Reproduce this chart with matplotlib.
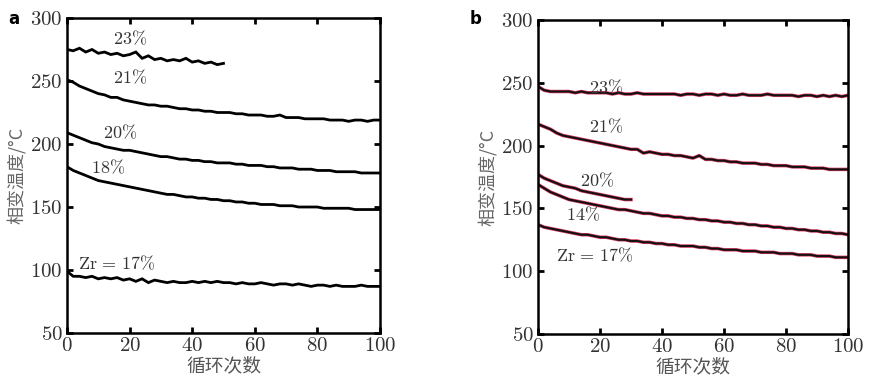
import matplotlib
matplotlib.use("Agg")
import matplotlib.pyplot as plt
import numpy as np

plt.rcParams['mathtext.fontset'] = 'cm'
plt.rcParams['axes.formatter.use_mathtext'] = True
plt.rcParams['font.family'] = ['Noto Sans CJK SC', 'DejaVu Sans']

# ---------------- data ----------------
cycles_a23 = list(range(0, 51, 2))
a_23 = [275, 274, 276, 273, 275, 272, 273, 271, 272, 270, 271, 273, 268, 270, 267,
        268, 266, 267, 266, 268, 265, 266, 264, 265, 263, 264]

cycles = list(range(0, 101, 2))
a_21 = [251, 249, 246, 244, 242, 240, 239, 237, 237, 235, 234, 233, 232, 231, 231,
        230, 230, 229, 228, 228, 227, 227, 226, 226, 225, 225, 225, 224, 224, 223,
        223, 223, 222, 222, 223, 221, 221, 221, 220, 220, 220, 220, 219, 219, 219,
        218, 219, 219, 218, 219, 219]
a_20 = [209, 207, 205, 203, 201, 200, 198, 197, 196, 195, 195, 194, 193, 192, 191,
        190, 190, 189, 188, 188, 187, 187, 186, 186, 185, 185, 185, 184, 184, 183,
        183, 183, 182, 182, 181, 181, 181, 180, 180, 180, 179, 179, 179, 178, 178,
        178, 178, 177, 177, 177, 177]
a_18 = [182, 179, 177, 175, 173, 171, 170, 169, 168, 167, 166, 165, 164, 163, 162,
        161, 160, 160, 159, 158, 158, 157, 157, 156, 156, 155, 155, 154, 154, 153,
        153, 152, 152, 152, 151, 151, 151, 150, 150, 150, 150, 149, 149, 149, 149,
        149, 148, 148, 148, 148, 148]
a_17 = [99, 95, 95, 94, 95, 93, 94, 93, 94, 92, 93, 91, 93, 90, 92,
        91, 90, 91, 90, 90, 91, 90, 91, 90, 91, 90, 90, 89, 90, 89,
        89, 90, 89, 88, 89, 89, 88, 89, 88, 87, 88, 88, 87, 88, 87,
        87, 87, 88, 87, 87, 87]

b_23 = [247, 244, 243, 243, 243, 243, 242, 243, 242, 242, 242, 242, 241, 242, 241,
        241, 242, 241, 241, 241, 241, 241, 241, 240, 241, 241, 240, 241, 241, 240,
        241, 240, 240, 241, 240, 240, 240, 241, 240, 240, 240, 240, 239, 240, 240,
        239, 240, 239, 240, 239, 240]
b_21 = [217, 215, 213, 210, 208, 207, 206, 205, 204, 203, 202, 201, 200, 199, 198,
        197, 197, 194, 195, 194, 193, 193, 192, 192, 191, 190, 192, 189, 189, 188,
        188, 187, 187, 186, 186, 186, 185, 185, 184, 184, 184, 183, 183, 183, 182,
        182, 182, 181, 181, 181, 181]
cycles_b20 = list(range(0, 31, 2))
b_20 = [177, 174, 172, 170, 168, 167, 166, 164, 163, 162, 161, 160, 159, 158, 157, 157]
b_14 = [169, 166, 163, 161, 159, 157, 156, 155, 154, 153, 152, 151, 150, 149, 149,
        148, 147, 146, 146, 145, 144, 144, 143, 143, 142, 142, 141, 141, 140, 140,
        139, 139, 138, 138, 137, 137, 136, 136, 135, 135, 134, 134, 133, 133, 132,
        132, 131, 131, 130, 130, 129]
b_17 = [137, 135, 134, 133, 132, 131, 130, 129, 129, 128, 127, 127, 126, 125, 125,
        124, 124, 123, 123, 122, 122, 121, 121, 120, 120, 120, 119, 119, 118, 118,
        117, 117, 117, 116, 116, 116, 115, 115, 115, 114, 114, 114, 113, 113, 113,
        112, 112, 112, 111, 111, 111]

xticks = [0, 20, 40, 60, 80, 100]
yticks = [50, 100, 150, 200, 250, 300]
xlabel = '循环次数'
ylabel = '相变温度/°C'

labels_a = [(r'$23\%$', 20, 283), (r'$21\%$', 20, 252), (r'$20\%$', 17, 209),
            (r'$18\%$', 13, 181), (r'$\mathrm{Zr}\,=\,17\%$', 16, 105)]
labels_b = [(r'$23\%$', 22, 246), (r'$21\%$', 22, 215), (r'$20\%$', 19, 172),
            (r'$14\%$', 14.5, 144.5), (r'$\mathrm{Zr}\,=\,17\%$', 18.5, 112)]

# ---------------- figure ----------------
fig = plt.figure(figsize=(8.72, 3.83), dpi=100)
axa = fig.add_axes([0.0768, 0.1305, 0.359, 0.8225])
axb = fig.add_axes([0.617, 0.128, 0.3555, 0.820])

txtc = '#333333'

def style(ax):
    ax.set_xlim(0, 100)
    ax.set_ylim(50, 300)
    ax.set_xticks(xticks)
    ax.set_yticks(yticks)
    ax.tick_params(direction='in', top=True, right=True, length=4, width=2.0,
                   labelsize=15, labelcolor=txtc, pad=3)
    for lab in ax.get_xticklabels() + ax.get_yticklabels():
        lab.set_fontfamily('cmr10')
    for s in ax.spines.values():
        s.set_linewidth(1.8)
    ax.set_xlabel(xlabel, fontsize=13.5, color='#555555', labelpad=0)
    ax.set_ylabel(ylabel, fontsize=13, color='#666666', labelpad=3)

# panel a
for xs, ys in [(cycles_a23, a_23), (cycles, a_21), (cycles, a_20), (cycles, a_18), (cycles, a_17)]:
    axa.plot(xs, ys, color='black', lw=2.0, solid_joinstyle='miter')
for t, x, y in labels_a:
    axa.text(x, y, t, fontsize=13, color='#333333', ha='center', va='center')
style(axa)

# panel b
for xs, ys in [(cycles, b_23), (cycles, b_21), (cycles_b20, b_20), (cycles, b_14), (cycles, b_17)]:
    axb.plot(xs, ys, color='#d8395f', lw=2.5)
    axb.plot(xs, ys, color='#111111', lw=1.5)
for t, x, y in labels_b:
    axb.text(x, y, t, fontsize=13, color='#333333', ha='center', va='center')
style(axb)

fig.text(0.009, 0.975, 'a', fontsize=12, fontweight='bold', family='DejaVu Sans', va='top')
fig.text(0.539, 0.975, 'b', fontsize=12, fontweight='bold', family='DejaVu Sans', va='top')

fig.savefig('out.png', dpi=100)
